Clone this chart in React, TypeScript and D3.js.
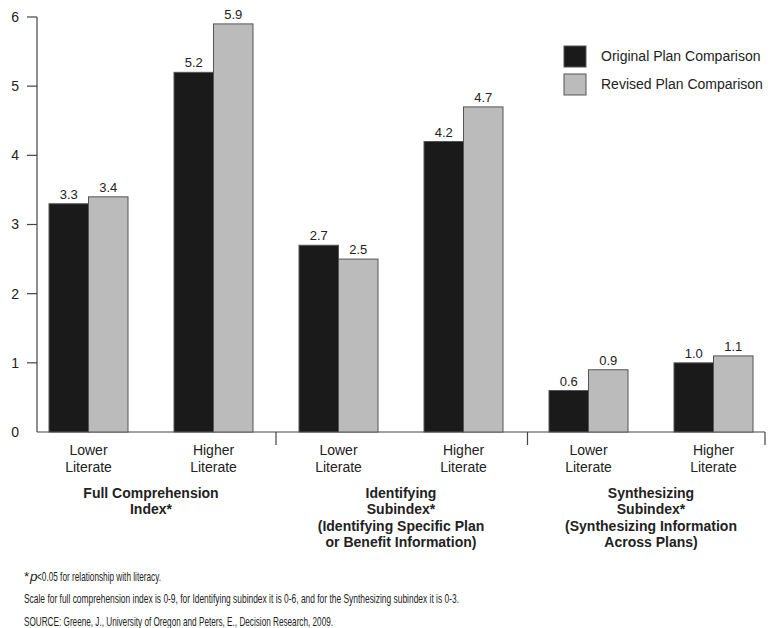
import React from 'react';
import * as d3 from 'd3';

const groups = ['Full Comprehension Index*', 'Identifying Subindex*', 'Synthesizing Subindex*'];
const groupTitles = [
  ['Full Comprehension', 'Index*'],
  ['Identifying', 'Subindex*', '(Identifying Specific Plan', 'or Benefit Information)'],
  ['Synthesizing', 'Subindex*', '(Synthesizing Information', 'Across Plans)'],
];
const literacy = ['Lower', 'Higher'];
const categories = ['FC-Lower', 'FC-Higher', 'ID-Lower', 'ID-Higher', 'SY-Lower', 'SY-Higher'];
const original = [3.3, 5.2, 2.7, 4.2, 0.6, 1.0];
const revised = [3.4, 5.9, 2.5, 4.7, 0.9, 1.1];
const series = ['Original Plan Comparison', 'Revised Plan Comparison'];
const yTicks = [0, 1, 2, 3, 4, 5, 6];
const footnotes = [
  'Scale for full comprehension index is 0-9, for Identifying subindex it is 0-6, and for the Synthesizing  subindex it is 0-3.',
  'SOURCE: Greene, J., University of Oregon and Peters, E., Decision Research, 2009.',
];

const W = 773;
const H = 628;
const font = '"Liberation Sans", Arial, Helvetica, sans-serif';
const BLACK = '#1a1a1a';
const GREY = '#bbbbbb';
const AXIS = '#444';
const TEXT = '#222';

export default function App() {
  const left = 37;
  const right = 765;
  const y = d3.scaleLinear().domain([0, 6]).range([432, 17]);
  const x = d3.scalePoint<string>().domain(categories).range([left, right]).padding(0.412);
  const barW = 39.5;
  const colors = [BLACK, GREY];
  const values = [original, revised];
  const fmt = d3.format('.1f');

  return (
    <svg width={W} height={H} style={{ position: 'absolute', left: 0, top: 0, background: '#fff' }} fontFamily={font}>
      {/* y axis */}
      <line x1={left} x2={left} y1={y(6)} y2={y(0)} stroke={AXIS} strokeWidth={1.2} />
      {yTicks.map((t) => (
        <g key={t}>
          {t > 0 && <line x1={left - 10} x2={left} y1={y(t)} y2={y(t)} stroke={AXIS} strokeWidth={1.2} />}
          <text x={19} y={y(t)} dy="0.35em" textAnchor="end" fontSize={14} fill={TEXT}>
            {t}
          </text>
        </g>
      ))}

      {/* x axis */}
      <line x1={left} x2={right} y1={y(0)} y2={y(0)} stroke={AXIS} strokeWidth={1.2} />
      {[1, 2].map((g) => {
        const sx = (x(categories[g * 2 - 1])! + x(categories[g * 2])!) / 2 + (g === 2 ? 1.5 : 0);
        return <line key={g} x1={sx} x2={sx} y1={y(0)} y2={y(0) + 13} stroke={AXIS} strokeWidth={1.2} />;
      })}
      <line x1={right} x2={right} y1={y(0)} y2={y(0) + 13} stroke={AXIS} strokeWidth={1.2} />

      {/* bars */}
      {categories.map((c, i) => (
        <g key={c}>
          {values.map((vals, s) => {
            const bx = x(c)! - barW + s * barW;
            return (
              <g key={s}>
                <rect
                  x={bx}
                  y={y(vals[i])}
                  width={barW}
                  height={y(0) - y(vals[i])}
                  fill={colors[s]}
                  stroke="#555"
                  strokeWidth={1}
                />
                <text x={bx + barW / 2} y={y(vals[i]) - 5} textAnchor="middle" fontSize={13} fill={TEXT}>
                  {fmt(vals[i])}
                </text>
              </g>
            );
          })}
          <text x={x(c)} y={455} textAnchor="middle" fontSize={14} fill={TEXT}>
            {literacy[i % 2]}
          </text>
          <text x={x(c)} y={472} textAnchor="middle" fontSize={14} fill={TEXT}>
            Literate
          </text>
        </g>
      ))}

      {/* group titles */}
      {groups.map((g, gi) => {
        const cx = (x(categories[gi * 2])! + x(categories[gi * 2 + 1])!) / 2;
        return (
          <text key={g} x={cx} textAnchor="middle" fontSize={14} fontWeight="bold" fill={TEXT}>
            {groupTitles[gi].map((line, li) => (
              <tspan key={li} x={cx} y={498 + li * 16.3}>
                {line}
              </tspan>
            ))}
          </text>
        );
      })}

      {/* legend */}
      {series.map((s, i) => (
        <g key={s} transform={`translate(564,${46 + i * 28})`}>
          <rect width={22} height={21} fill={colors[i]} stroke="#555" strokeWidth={1} />
          <text x={37} y={10.5} dy="0.35em" fontSize={14} fill={TEXT}>
            {s}
          </text>
        </g>
      ))}

      {/* footnotes */}
      <text x={24} y={581} fontSize={13.5} fill={TEXT}>*</text>
      <text x={30} y={581} fontSize={13.5} fontStyle="italic" fill={TEXT}>p</text>
      <text x={37} y={581} fontSize={13.5} fill={TEXT} textLength={124} lengthAdjust="spacingAndGlyphs">
        &lt;0.05 for relationship with literacy.
      </text>
      {footnotes.map((f, i) => (
        <text
          key={i}
          x={24}
          y={603 + i * 23}
          fontSize={13.5}
          fill={TEXT}
          textLength={i === 0 ? 435 : 309}
          lengthAdjust="spacingAndGlyphs"
        >
          {f}
        </text>
      ))}
    </svg>
  );
}
